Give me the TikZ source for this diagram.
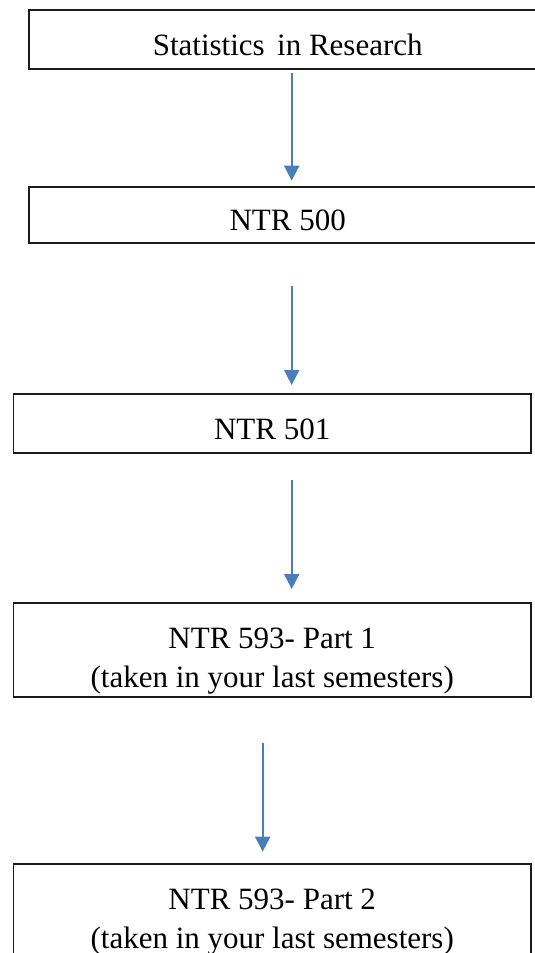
\documentclass[tikz,border=0pt]{standalone}
\usepackage{fontspec}
\setmainfont{Liberation Serif}
\usepackage{tikz}
\usetikzlibrary{calc,positioning,arrows.meta}
\definecolor{flowblue}{HTML}{4a7ebb}
\definecolor{boxline}{HTML}{1a1a1a}

\begin{document}
\begin{tikzpicture}[x=1pt,y=1pt,
    course/.style={draw=boxline,line width=1.9pt,rectangle,anchor=north west,inner sep=0pt,
        minimum width=517.5pt,font=\fontsize{31}{39.5}\selectfont,align=center,
        text height=32pt,text depth=0pt},
    flow/.style={flowblue,line width=1.9pt,-{Triangle[width=15pt,length=15pt]}}]

    \useasboundingbox (0,0) rectangle (535,-953);

    \node[course,minimum height=58.4pt](stats) at (28,-9.3) {Statistics\hspace{0.15em} in Research};
    \node[course,minimum height=56.6pt](ntr500) at (28,-185.7) {NTR 500};
    \node[course,minimum height=59pt](ntr501) at (12.5,-393.3) {NTR 501};
    \node[course,minimum height=94.3pt,text height=76pt](partone) at (12.5,-601.7)
        {NTR 593- Part 1\\(taken in your last semesters)};
    \node[course,minimum height=94.3pt,text height=76pt](parttwo) at (12.5,-862.7)
        {NTR 593- Part 2\\(taken in your last semesters)};

    \coordinate (axis) at (291.7,0);
    \coordinate (axislow) at (262.7,0);

    \draw[flow,shorten <=3.3pt,shorten >=5pt] (stats.south -| axis) -- (ntr500.north -| axis);
    \draw[flow,shorten <=41.7pt,shorten >=8.3pt] (ntr500.south -| axis) -- (ntr501.north -| axis);
    \draw[flow,shorten <=25.7pt,shorten >=12.7pt] (ntr501.south -| axis) -- (partone.north -| axis);
    \draw[flow,shorten <=45pt,shorten >=11pt] (partone.south -| axislow) -- (parttwo.north -| axislow);
\end{tikzpicture}
\end{document}
